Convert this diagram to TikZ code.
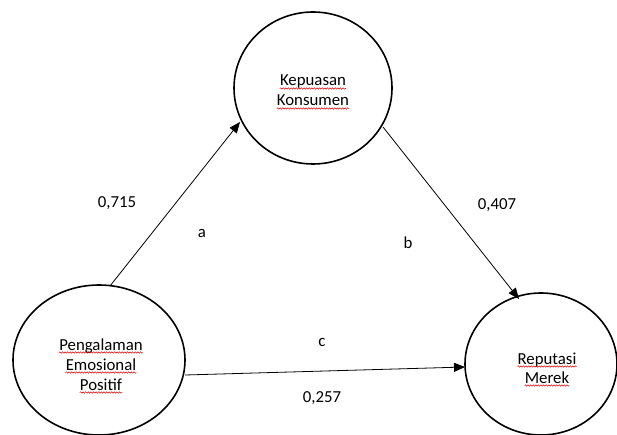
\documentclass[tikz,border=0pt]{standalone}
\usepackage{fontspec}
\setmainfont{Carlito}
\usetikzlibrary{arrows.meta,decorations.pathmorphing}
\begin{document}
\begin{tikzpicture}[x=1pt,y=-1pt,
  construct/.style={line width=1.6pt},
  lbl/.style={font=\fontsize{16.8}{20}\selectfont,inner sep=0pt,anchor=base},
  num/.style={font=\fontsize{16.8}{20}\selectfont,inner sep=0pt},
  pathline/.style={draw=black,line width=0.8pt,-{Triangle[length=11pt,width=9pt]}},
  squig/.style={draw=red!85!black,line width=0.5pt,decorate,decoration={snake,amplitude=0.7pt,segment length=2.6pt}}
]
\useasboundingbox (0,0) rectangle (617,435);
% constructs
\draw[construct] (313,88) ellipse [x radius=79, y radius=76];
\draw[construct] (99,360) ellipse [x radius=86, y radius=75];
\draw[construct] (541,364) ellipse [x radius=76, y radius=71];
% texts
\node[lbl] (k1) at (313,86) {Kepuasan};
\node[lbl] (k2) at (313,106) {Konsumen};
\node[lbl] (p1) at (101,350) {Pengalaman};
\node[lbl] (p2) at (101,370) {Emosional};
\node[lbl] (p3) at (101,390) {Positif};
\node[lbl] (r1) at (547,364) {Reputasi};
\node[lbl] (r2) at (547,383) {Merek};
\foreach \n in {k1,k2,p1,p2,p3,r1,r2}{
  \draw[squig] ([yshift=-2.5pt]\n.base west) -- ([yshift=-2.5pt]\n.base east);
}
% connector end points on the ellipse outlines
\coordinate (pa) at (110,286);
\coordinate (ka) at (240,122);
\coordinate (kb) at (383,127);
\coordinate (rb) at (519,299);
\coordinate (pcc) at (185,375);
\coordinate (rcc) at (465,367);
\draw[pathline] (pa) -- (ka);
\draw[pathline] (kb) -- (rb);
\draw[pathline] (pcc) -- (rcc);
% labels
\node[num] (n715) at (117,203) {0,715};
\node[num] (la) at (202,233) {a};
\node[num] (n407) at (497,205) {0,407};
\node[num] (lb) at (408,243) {b};
\node[num] (lc) at (322,342) {c};
\node[num] (n257) at (322,398) {0,257};
\end{tikzpicture}
\end{document}
